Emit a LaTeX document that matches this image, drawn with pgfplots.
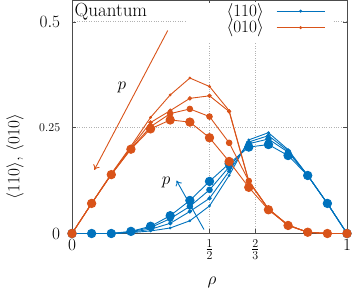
\documentclass[border=0pt]{standalone}
\usepackage{pgfplots}
\usepackage{pgfplotstable}
\pgfplotsset{compat=1.18}
\usetikzlibrary{arrows.meta}
\definecolor{cblue}{HTML}{0072BD}
\definecolor{corange}{HTML}{D95319}

\pgfplotstableread{
x a b c d
0.0000 0 0 0 0
0.0714 0.071 0.071 0.071 0.071
0.1429 0.141 0.140 0.139 0.139
0.2143 0.206 0.203 0.200 0.199
0.2857 0.274 0.262 0.252 0.247
0.3571 0.327 0.290 0.283 0.268
0.4286 0.367 0.319 0.294 0.263
0.5000 0.347 0.325 0.276 0.226
0.5714 0.290 0.288 0.214 0.170
0.6429 0.124 0.122 0.124 0.109
0.7143 0.058 0.058 0.058 0.056
0.7857 0.020 0.020 0.019 0.019
0.8571 0.003 0.003 0.003 0.003
0.9286 0 0 0 0
1.0000 0 0 0 0
}\orangedata

\pgfplotstableread{
x a b c d
0.0000 0 0 0 0
0.0714 0 0 0 0
0.1429 0 0 0 0
0.2143 0.002 0.003 0.004 0.005
0.2857 0.006 0.010 0.014 0.017
0.3571 0.013 0.024 0.035 0.042
0.4286 0.030 0.052 0.064 0.078
0.5000 0.065 0.083 0.103 0.123
0.5714 0.137 0.147 0.157 0.165
0.6429 0.221 0.216 0.212 0.204
0.7143 0.238 0.231 0.223 0.210
0.7857 0.198 0.195 0.192 0.184
0.8571 0.137 0.137 0.137 0.137
0.9286 0.071 0.071 0.071 0.071
1.0000 0 0 0 0
}\bluedata

\begin{document}
\fontsize{17}{20}\selectfont
\begin{tikzpicture}
\path[use as bounding box] (-72pt,-57pt) rectangle (281pt,233.5pt);
\begin{axis}[
  at={(0,0)}, anchor=south west,
  scale only axis, width=275pt, height=233pt,
  clip mode=individual,
  xmin=0, xmax=1, ymin=0, ymax=0.55,
  xtick={0,0.5,0.66667,1}, xticklabels={$0$,$\frac{1}{2}$,$\frac{2}{3}$,$1$},
  ytick={0,0.25,0.5}, yticklabels={$0$,{\fontsize{12}{14}\selectfont$0.25$}\hspace{9pt},$0.5$\hspace{11pt}},
  yticklabel style={xshift=-6pt},
  tick pos=both, tick align=inside, major tick length=4pt,
  tick style={black!70},
  axis line style={black!70},
  grid=major, grid style={dotted, black!30, line width=0.5pt},
  legend plot pos=right,
  legend style={at={(0.925,0.995)}, anchor=north east, draw=none, fill=white,
    inner sep=1pt, row sep=0pt, column sep=12pt, nodes={inner sep=0.5pt}},
  legend image code/.code={\draw[mark repeat=2,mark phase=2,#1] plot coordinates {(0pt,0pt) (24pt,0pt) (48pt,0pt)};},
  every axis plot/.append style={line width=0.9pt, mark=*},
]
\addlegendimage{cblue, mark=*, mark size=1pt}
\addlegendentry{$\langle110\rangle$}
\addlegendimage{corange, mark=*, mark size=1pt}
\addlegendentry{$\langle010\rangle$}

\addplot[cblue, mark size=0.9pt, forget plot] table[x=x,y=a]{\bluedata};
\addplot[cblue, mark size=1.7pt, forget plot] table[x=x,y=b]{\bluedata};
\addplot[cblue, mark size=2.8pt, forget plot] table[x=x,y=c]{\bluedata};
\addplot[cblue, mark size=4.2pt, forget plot] table[x=x,y=d]{\bluedata};

\addplot[corange, mark size=0.9pt, forget plot] table[x=x,y=a]{\orangedata};
\addplot[corange, mark size=1.7pt, forget plot] table[x=x,y=b]{\orangedata};
\addplot[corange, mark size=2.8pt, forget plot] table[x=x,y=c]{\orangedata};
\addplot[corange, mark size=4.2pt, forget plot] table[x=x,y=d]{\orangedata};

\fill[white] (axis cs:0.418,0.449) rectangle (axis cs:0.949,0.543);
\draw[corange, line width=0.9pt, -{To[length=5pt,width=7pt]}] (axis cs:0.348,0.479) -- (axis cs:0.081,0.150);
\node at (axis cs:0.181,0.345) {$p$};
\draw[cblue, line width=0.9pt, -{To[length=5pt,width=7pt]}] (axis cs:0.48,0.0094) -- (axis cs:0.38,0.125);
\node at (axis cs:0.342,0.121) {$p$};
\node[anchor=north west, inner sep=2.5pt, font=\fontsize{19}{22}\selectfont] at (axis description cs:0,1) {Quantum};
\node[rotate=90, anchor=center, inner sep=0pt, font=\fontsize{19}{22}\selectfont] at (axis description cs:-0.207,0.33) {$\langle110\rangle$, $\langle010\rangle$};
\node[anchor=center, inner sep=0pt] at (axis description cs:0.509,-0.212) {$\rho$};
\end{axis}
\end{tikzpicture}
\end{document}
